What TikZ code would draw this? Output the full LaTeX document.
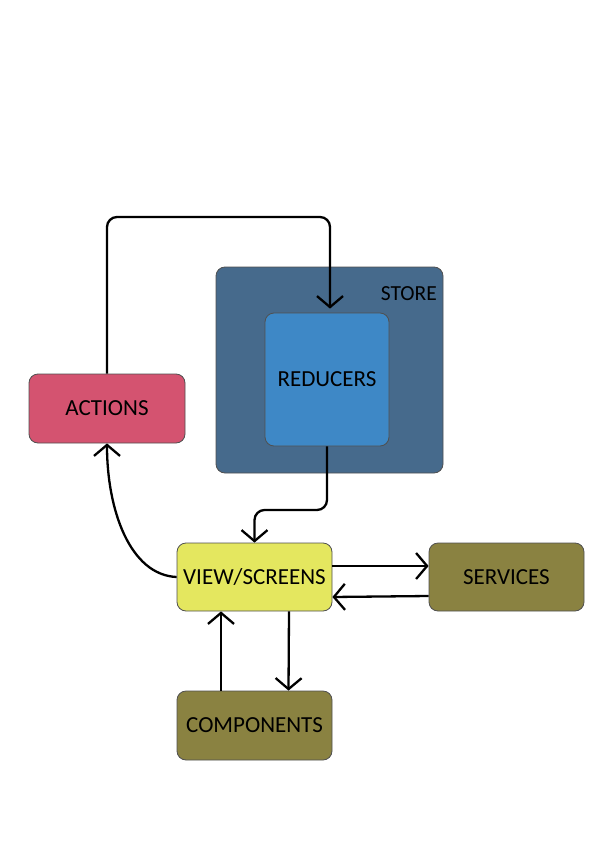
\documentclass[tikz,border=0pt]{standalone}
\usepackage{fontspec}
\setmainfont{Carlito}
\usetikzlibrary{arrows.meta,calc}
\definecolor{storec}{HTML}{466A8C}
\definecolor{reducc}{HTML}{3E88C6}
\definecolor{actc}{HTML}{D45370}
\definecolor{viewc}{HTML}{E4E75F}
\definecolor{olivec}{HTML}{8A8241}
\definecolor{edgec}{HTML}{505050}
\begin{document}
\begin{tikzpicture}[x=1pt,y=-1pt,
  box/.style={draw=edgec,line width=0.8pt,rounded corners=9pt,inner sep=0pt,
    font=\fontsize{23}{26}\selectfont},
  arr/.style={line width=2.3pt,-{Straight Barb[length=11pt,width=26pt,line width=2.3pt]}},
  conn/.style={line width=2.3pt}]
\useasboundingbox (0,0) rectangle (596,842);
\node[box,fill=storec,minimum width=227pt,minimum height=206pt] (store) at (329.5,370) {};
\node[font=\fontsize{21.5}{24}\selectfont,anchor=east,inner sep=0pt] (storelbl) at (437,294) {STORE};
\node[box,fill=reducc,minimum width=124pt,minimum height=133pt] (reducers) at (327,379.5) {REDUCERS};
\node[box,fill=actc,minimum width=156pt,minimum height=69pt] (actions) at (107,408.5) {ACTIONS};
\node[box,fill=viewc,minimum width=155pt,minimum height=68pt] (view) at (254.5,577) {VIEW/SCREENS};
\node[box,fill=olivec,minimum width=155pt,minimum height=68pt] (services) at (506.5,577) {SERVICES};
\node[box,fill=olivec,minimum width=155pt,minimum height=69pt] (components) at (254.5,725.5) {COMPONENTS};
\coordinate (topbend) at (330,217);
\coordinate (midbend) at (0,510);
\draw[arr,rounded corners=10pt,shorten >=4pt] (actions.north) |- (topbend) -- (topbend |- reducers.north);
\draw[arr,rounded corners=10pt] (reducers.south) -- (reducers.south |- midbend) -| (view.north);
\draw[arr] (view.west) .. controls (130,575) and (107,510) .. (actions.south);
\draw[arr] ([yshift=11pt]view.east) -- ([yshift=11pt]services.west);
\draw[arr] ([yshift=-19pt]services.west) -- ([yshift=-20pt]view.east);
\draw[arr] ([xshift=-33.5pt]components.north) -- ([xshift=-33.5pt]view.south);
\draw[arr] ([xshift=34.5pt]view.south) -- ([xshift=34pt]components.north);
\end{tikzpicture}
\end{document}
